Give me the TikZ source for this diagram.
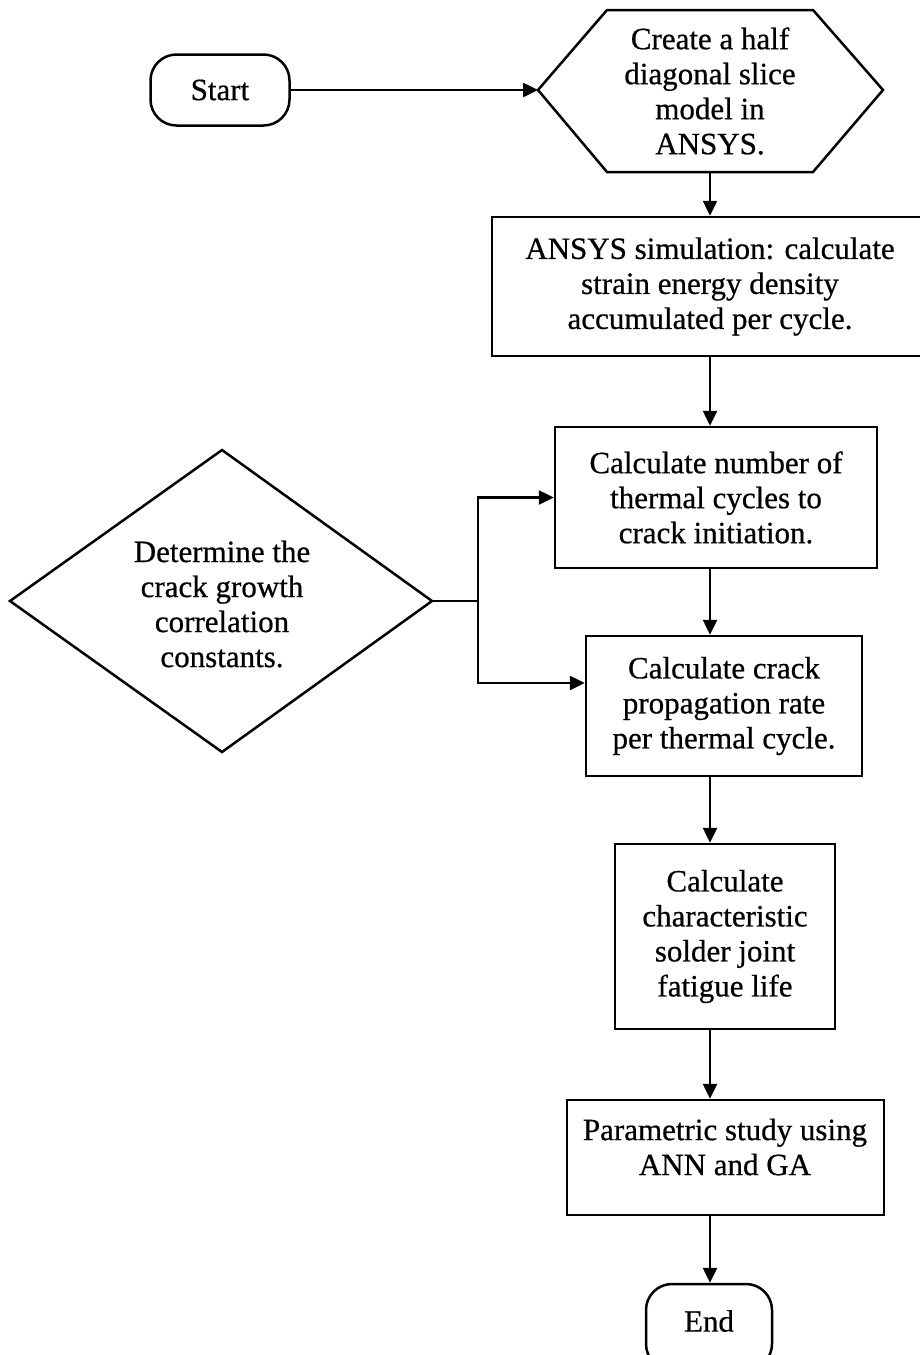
\documentclass[tikz,border=0pt]{standalone}
\usepackage{fontspec}
\setmainfont[FakeBold=0.6,AutoFakeBold=0.6]{Liberation Serif}
\newfontfamily\scanfont[FakeBold=0.6]{Liberation Serif}
\usetikzlibrary{arrows.meta}
\begin{document}
\begin{tikzpicture}[x=1pt,y=-1pt,
  line/.style={draw=black, line width=2.5pt, line join=miter},
  arr/.style={line, -{Triangle[length=15pt,width=14pt]}},
  txt/.style={align=center, font=\scanfont\fontsize{31}{35}\selectfont, inner sep=0pt},
  box/.style={txt, line},
  term/.style={box, rounded corners=26pt}]
\clip (0,0) rectangle (920,1355);
\fill[white] (0,0) rectangle (920,1355);
% nodes
\node[term, minimum width=139pt, minimum height=71pt] (start) at (220,90) {Start};
\node[txt] (hex) at (710,91) {Create a half\\diagonal slice\\model in\\ANSYS.};
\coordinate (hexW) at (538,90);
\coordinate (hexS) at (710,172);
\draw[line] (hexW) -- (607,10) -- (813,10) -- (883,90) -- (813,172) -- (607,172) -- cycle;
\node[box, minimum width=436pt, minimum height=139pt] (ansys) at (710,286.5)
  {ANSYS simulation: calculate\\strain energy density\\accumulated per cycle.};
\node[box, minimum width=322pt, minimum height=141pt] (init) at (716,497.5)
  {Calculate number of\\thermal cycles to\\crack initiation.};
\node[box, minimum width=276pt, minimum height=140pt] (prop) at (724,706)
  {Calculate crack\\propagation rate\\per thermal cycle.};
\node[box, minimum width=220pt, minimum height=185pt] (life) at (725,936.5)
  {Calculate\\characteristic\\solder joint\\fatigue life};
\node[box, minimum width=317pt, minimum height=115pt] (para) at (725.5,1157.5) {};
\node[txt] (paratxt) at (725,1147) {Parametric study using\\ANN and GA};
\node[term, minimum width=126pt, minimum height=86pt] (end) at (709,1327) {};
\node[txt] (endtxt) at (709,1321) {End};
\node[txt] (dia) at (222,604) {Determine the\\crack growth\\correlation\\constants.};
\coordinate (diaE) at (432,601);
\draw[line] (10,601) -- (222,450) -- (diaE) -- (222,752) -- cycle;
% connectors
\coordinate (col) at (710,0);
\coordinate (jn) at (478,601);
\coordinate (lowY) at (0,683);
\draw[arr] (start.east) -- (hexW);
\draw[arr] (hexS) -- (ansys.north);
\draw[arr] (col |- ansys.south) -- (col |- init.north);
\draw[arr] (col |- init.south) -- (col |- prop.north);
\draw[arr] (col |- prop.south) -- (col |- life.north);
\draw[arr] (col |- life.south) -- (col |- para.north);
\draw[arr] (col |- para.south) -- (col |- end.north);
\draw[line] (diaE) -- (jn);
\draw[arr] (jn) |- (init.west);
\draw[arr] (jn) |- (prop.west |- lowY);
\end{tikzpicture}
\end{document}
